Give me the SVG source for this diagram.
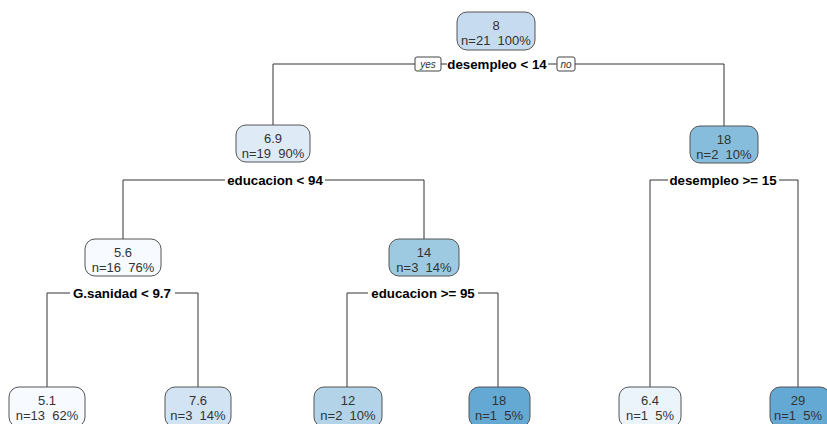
<svg xmlns="http://www.w3.org/2000/svg" width="827" height="424" viewBox="0 0 827 424">
<style>
.box{stroke:#555;stroke-width:1}
.t{font-family:"Liberation Sans",Arial,sans-serif;font-size:13px;fill:#333;text-anchor:middle}
.s{font-family:"Liberation Sans",Arial,sans-serif;font-size:13.3px;font-weight:bold;fill:#000;text-anchor:middle}
.yn{font-family:"Liberation Sans",Arial,sans-serif;font-size:10px;font-style:italic;fill:#333;text-anchor:middle}
.c line{stroke:#333;stroke-width:1}
</style>
<rect width="827" height="424" fill="#fff"/>
<g class="c" id="connectors">
<line x1="273" y1="64" x2="415" y2="64"/><line x1="441" y1="64" x2="447" y2="64"/><line x1="548" y1="64" x2="557" y2="64"/><line x1="575" y1="64" x2="724" y2="64"/>
<line x1="273" y1="64" x2="273" y2="125"/><line x1="724" y1="64" x2="724" y2="126"/>
<line x1="123" y1="180" x2="225" y2="180"/><line x1="325" y1="180" x2="424" y2="180"/>
<line x1="123" y1="180" x2="123" y2="239"/><line x1="424" y1="180" x2="424" y2="239"/>
<line x1="650" y1="180" x2="668" y2="180"/><line x1="779" y1="180" x2="798" y2="180"/>
<line x1="650" y1="180" x2="650" y2="387"/><line x1="798" y1="180" x2="798" y2="387"/>
<line x1="47" y1="293" x2="70" y2="293"/><line x1="175" y1="293" x2="198" y2="293"/>
<line x1="47" y1="293" x2="47" y2="387"/><line x1="198" y1="293" x2="198" y2="387"/>
<line x1="347" y1="293" x2="368" y2="293"/><line x1="478" y1="293" x2="498" y2="293"/>
<line x1="347" y1="293" x2="347" y2="387"/><line x1="498" y1="293" x2="498" y2="387"/>
</g>
<g id="yes"><rect x="415" y="57" width="26" height="14" rx="2" fill="#fff" stroke="#444"/><text class="yn" x="428" y="68">yes</text></g>
<g id="no"><rect x="557" y="57" width="18" height="14" rx="2" fill="#fff" stroke="#444"/><text class="yn" x="566" y="68">no</text></g>
<g id="root"><rect class="box" x="457" y="12" width="78" height="38" rx="10" fill="#c6dbef"/><text class="t" x="496" y="30">8</text><text class="t" x="496" y="45" xml:space="preserve">n=21  100%</text><text class="s" x="497" y="69">desempleo &lt; 14</text></g>
<g id="n2"><rect class="box" x="236" y="125" width="74" height="37" rx="10" fill="#deebf7"/><text class="t" x="273" y="143">6.9</text><text class="t" x="273" y="158" xml:space="preserve">n=19  90%</text><text class="s" x="275" y="185">educacion &lt; 94</text></g>
<g id="n3"><rect class="box" x="690" y="126" width="68" height="37" rx="10" fill="#86bddc"/><text class="t" x="724" y="144">18</text><text class="t" x="724" y="159" xml:space="preserve">n=2  10%</text><text class="s" x="723" y="185">desempleo &gt;= 15</text></g>
<g id="n4"><rect class="box" x="85" y="239" width="76" height="37" rx="10" fill="#f7fbff"/><text class="t" x="123" y="257">5.6</text><text class="t" x="123" y="272" xml:space="preserve">n=16  76%</text><text class="s" x="122" y="298">G.sanidad &lt; 9.7</text></g>
<g id="n5"><rect class="box" x="389" y="239" width="70" height="37" rx="10" fill="#9ecae1"/><text class="t" x="424" y="257">14</text><text class="t" x="424" y="272" xml:space="preserve">n=3  14%</text><text class="s" x="423" y="298">educacion &gt;= 95</text></g>
<g id="l1"><rect class="box" x="9" y="387" width="76" height="40" rx="10" fill="#f7fbff"/><text class="t" x="47" y="405">5.1</text><text class="t" x="47" y="420" xml:space="preserve">n=13  62%</text></g>
<g id="l2"><rect class="box" x="165" y="387" width="66" height="40" rx="10" fill="#d2e3f3"/><text class="t" x="198" y="405">7.6</text><text class="t" x="198" y="420" xml:space="preserve">n=3  14%</text></g>
<g id="l3"><rect class="box" x="314" y="387" width="68" height="40" rx="10" fill="#b3d3e8"/><text class="t" x="348" y="405">12</text><text class="t" x="348" y="420" xml:space="preserve">n=2  10%</text></g>
<g id="l4"><rect class="box" x="469" y="387" width="61" height="40" rx="10" fill="#64a9d4"/><text class="t" x="499" y="405">18</text><text class="t" x="499" y="420" xml:space="preserve">n=1  5%</text></g>
<g id="l5"><rect class="box" x="619" y="387" width="62" height="40" rx="10" fill="#ebf3fb"/><text class="t" x="650" y="405">6.4</text><text class="t" x="650" y="420" xml:space="preserve">n=1  5%</text></g>
<g id="l6"><rect class="box" x="770" y="387" width="60" height="40" rx="10" fill="#64a9d4"/><text class="t" x="798" y="405">29</text><text class="t" x="798" y="420" xml:space="preserve">n=1  5%</text></g>
</svg>
